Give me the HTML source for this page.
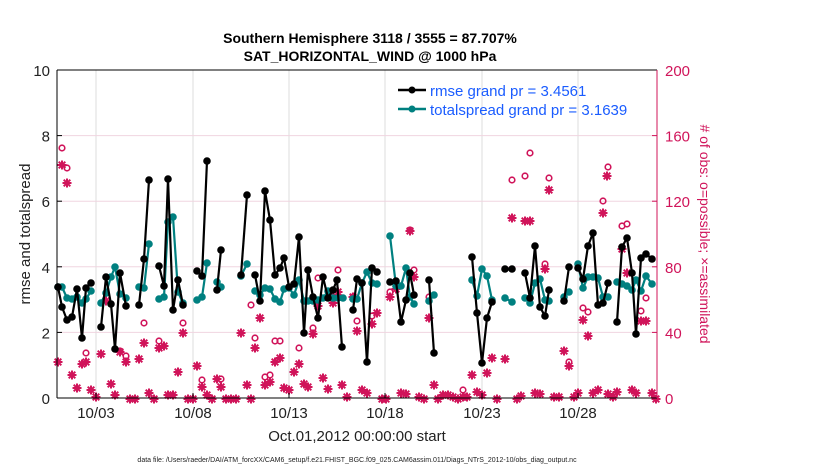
<!DOCTYPE html>
<html><head><meta charset="utf-8"><style>
body{margin:0;background:#fff;}
svg{display:block;font-family:"Liberation Sans",sans-serif;}
</style></head><body>
<svg id="s" width="830" height="470" viewBox="0 0 830 470" xmlns="http://www.w3.org/2000/svg">
<rect width="830" height="470" fill="#fff"/>
<g id="grid"></g>
<g id="obs"></g>
<g id="lines"></g>
<g id="axes"></g>
<text x="370" y="43" font-size="14" font-weight="bold" text-anchor="middle">Southern Hemisphere 3118 / 3555 = 87.707%</text>
<text x="370" y="61" font-size="14" font-weight="bold" text-anchor="middle">SAT_HORIZONTAL_WIND @ 1000 hPa</text>
<text x="357" y="441" font-size="15" text-anchor="middle" fill="#222">Oct.01,2012 00:00:00 start</text>
<text transform="translate(30,234) rotate(-90)" font-size="15" text-anchor="middle" fill="#222">rmse and totalspread</text>
<text transform="translate(700,234) rotate(90)" font-size="14" text-anchor="middle" fill="#d0145a"># of obs: o=possible; ×=assimilated</text>
<text x="357" y="462" font-size="7" text-anchor="middle" fill="#222">data file: /Users/raeder/DAI/ATM_forcXX/CAM6_setup/f.e21.FHIST_BGC.f09_025.CAM6assim.011/Diags_NTrS_2012-10/obs_diag_output.nc</text>
<line x1="398" y1="90" x2="426" y2="90" stroke="#000" stroke-width="2.5"/><circle cx="412" cy="90" r="3.5" fill="#000"/>
<line x1="398" y1="109" x2="426" y2="109" stroke="#008080" stroke-width="2.5"/><circle cx="412" cy="109" r="3.5" fill="#008080"/>
<text x="430" y="96" font-size="15" fill="#1a5cff">rmse grand pr = 3.4561</text>
<text x="430" y="115" font-size="15" fill="#1a5cff">totalspread grand pr = 3.1639</text>
</svg>
<script>
const NS="http://www.w3.org/2000/svg";
function el(p,t,a,txt){const e=document.createElementNS(NS,t);for(const k in a)e.setAttribute(k,a[k]);if(txt!=null)e.textContent=txt;document.getElementById(p).appendChild(e);return e;}
const L=57,R=657,T=70,B=398;
[96,193,289,385,482,578].forEach((x,i)=>{el("grid","line",{x1:x,y1:T,x2:x,y2:B,stroke:"#dcdcdc","stroke-width":1});
 el("axes","line",{x1:x,y1:B,x2:x,y2:B-5,stroke:"#000"});
 el("axes","text",{x:x,y:418,"font-size":15,"text-anchor":"middle",fill:"#222"},["10/03","10/08","10/13","10/18","10/23","10/28"][i]);});
for(let i=0;i<=5;i++){const y=B-i*65.6;
 if(i>0&&i<5)el("grid","line",{x1:L,y1:y,x2:R,y2:y,stroke:"#f0d5e0","stroke-width":1});
 el("axes","text",{x:50,y:y+6,"font-size":15,"text-anchor":"end",fill:"#222"},String(i*2));
 el("axes","text",{x:665,y:y+6,"font-size":15,fill:"#d0145a"},String(i*40));
 el("axes","line",{x1:L,y1:y,x2:L+5,y2:y,stroke:"#000"});
 el("axes","line",{x1:R,y1:y,x2:R-5,y2:y,stroke:"#d0145a"});}
el("axes","line",{x1:L,y1:T,x2:R,y2:T,stroke:"#000"});
el("axes","line",{x1:L,y1:B,x2:R,y2:B,stroke:"#000"});
el("axes","line",{x1:L,y1:T,x2:L,y2:B,stroke:"#000"});
el("axes","line",{x1:R,y1:T,x2:R,y2:B,stroke:"#d0145a"});
const rm=[[[58,287],[62,307],[67,320],[72,317],[77,289],[82,338],[86,288],[91,283]],
[[101,327],[106,277],[111,304],[115,349],[120,273],[126,306]],
[[139,305],[144,259],[149,180]],
[[159,266],[164,286],[168,179],[173,310],[178,280],[183,305]],
[[197,271],[202,276],[207,161]],[[217,290],[221,250]],[[241,275],[247,195]],
[[255,275],[260,301],[265,191],[270,220],[275,275],[280,268],[284,258],[289,287],[294,284],[299,237],[304,333],[308,270],[313,297],[318,318],[323,277],[328,298],[333,290],[337,280],[342,347]],
[[353,310],[357,279],[362,283],[367,362],[372,268],[377,272]],
[[390,282],[396,281],[401,322],[406,300],[410,273],[414,295]],
[[429,280],[434,353]],
[[472,257],[477,313],[482,363],[487,318],[492,302]],
[[505,269],[512,269]],
[[525,273],[530,298],[535,246],[540,307],[545,316],[549,290]],
[[564,301],[569,267]],
[[578,268],[583,279],[588,246],[593,233],[598,305],[603,303],[608,283]],
[[617,322],[622,247],[627,238],[632,273],[636,334],[641,258],[646,254],[652,259]]];
const sp=[[[58,287],[62,287],[67,298],[72,299],[77,297],[82,303],[86,299],[91,291]],
[[101,303],[106,293],[111,277],[115,267],[120,294],[126,298]],
[[139,287],[144,288],[149,244]],
[[159,299],[164,297],[168,222],[173,217],[178,292],[183,303]],
[[197,300],[202,297],[207,263]],[[217,282],[221,287]],[[241,276],[247,264]],
[[255,291],[260,295],[265,288],[270,289],[275,299],[280,302],[284,289],[289,288],[294,295],[299,280],[304,301],[308,301],[313,301],[318,300],[323,298],[328,291],[333,298],[338,298],[343,298]],
[[353,299],[357,299],[362,283],[367,272],[372,283],[377,284]],
[[390,236],[396,286],[401,286],[406,268],[410,297],[414,304]],
[[429,301],[434,295]],
[[472,280],[477,296],[482,269],[487,276],[492,300]],
[[505,298],[512,302]],
[[525,298],[530,303],[535,283],[540,279],[545,300],[549,301]],
[[564,297],[569,292]],
[[578,264],[583,288],[588,277],[593,277],[598,278],[603,297],[608,297]],
[[617,282],[622,284],[627,286],[632,290],[636,280],[641,291],[646,276],[652,284]]];
function draw(d,c){d.forEach(seg=>{el("lines","polyline",{points:seg.map(p=>p.join(",")).join(" "),fill:"none",stroke:c,"stroke-width":2.2});
 seg.forEach(p=>el("lines","circle",{cx:p[0],cy:p[1],r:3.8,fill:c}));});}
draw(sp,"#008080");draw(rm,"#000");
const st=[[58,362],[62,165],[67,183],[72,375],[77,388],[82,364],[86,362],[91,390],[96,397],[101,354],[106,301],[111,384],[115,395],[120,352],[126,362],[130,399],[135,399],[139,359],[144,343],[149,393],[154,399],[159,348],[164,346],[168,395],[173,395],[178,372],[183,333],[188,399],[193,399],[197,366],[202,387],[207,395],[212,399],[217,379],[221,387],[226,399],[231,399],[236,399],[241,333],[247,385],[251,399],[255,348],[260,318],[265,385],[270,382],[275,362],[280,358],[284,388],[289,390],[294,372],[299,364],[304,384],[308,387],[313,334],[318,306],[323,378],[328,389],[333,303],[338,292],[342,385],[347,397],[353,297],[357,331],[362,390],[367,393],[372,324],[377,313],[382,399],[386,399],[390,297],[396,289],[401,393],[406,394],[410,231],[414,277],[419,397],[424,399],[429,318],[434,385],[438,399],[443,395],[448,395],[453,397],[458,399],[463,397],[467,397],[472,375],[477,392],[482,395],[487,373],[492,358],[497,399],[505,359],[512,218],[517,399],[521,396],[525,221],[530,221],[535,393],[540,394],[545,269],[549,190],[554,397],[559,397],[564,351],[569,366],[574,397],[578,393],[583,320],[588,336],[593,393],[598,390],[603,213],[607,176],[608,394],[613,397],[617,392],[622,249],[627,273],[632,390],[636,393],[641,321],[646,321],[652,393],[656,399]];
const ci=[[62,148],[67,168],[86,353],[106,293],[120,351],[126,356],[144,323],[159,341],[183,323],[202,380],[221,379],[251,305],[255,338],[265,377],[270,375],[275,341],[280,341],[299,348],[313,328],[318,278],[333,297],[338,270],[357,321],[353,297],[372,316],[390,292],[410,230],[414,270],[429,297],[463,390],[512,180],[525,176],[530,153],[545,264],[549,178],[569,362],[583,308],[588,312],[603,201],[608,167],[622,226],[627,224],[641,311],[646,298]];
const M="#d0145a";
st.forEach(([x,y])=>{const g=el("obs","g",{stroke:M,"stroke-width":2});
 [[0,4.5],[4.5,0],[3.3,3.3],[3.3,-3.3]].forEach(([a,b])=>{const l=document.createElementNS(NS,"line");l.setAttribute("x1",x-a);l.setAttribute("y1",y-b);l.setAttribute("x2",x+a);l.setAttribute("y2",y+b);g.appendChild(l);});});
ci.forEach(([x,y])=>el("obs","circle",{cx:x,cy:y,r:2.8,fill:"none",stroke:M,"stroke-width":1.6}));
</script>
</body></html>
